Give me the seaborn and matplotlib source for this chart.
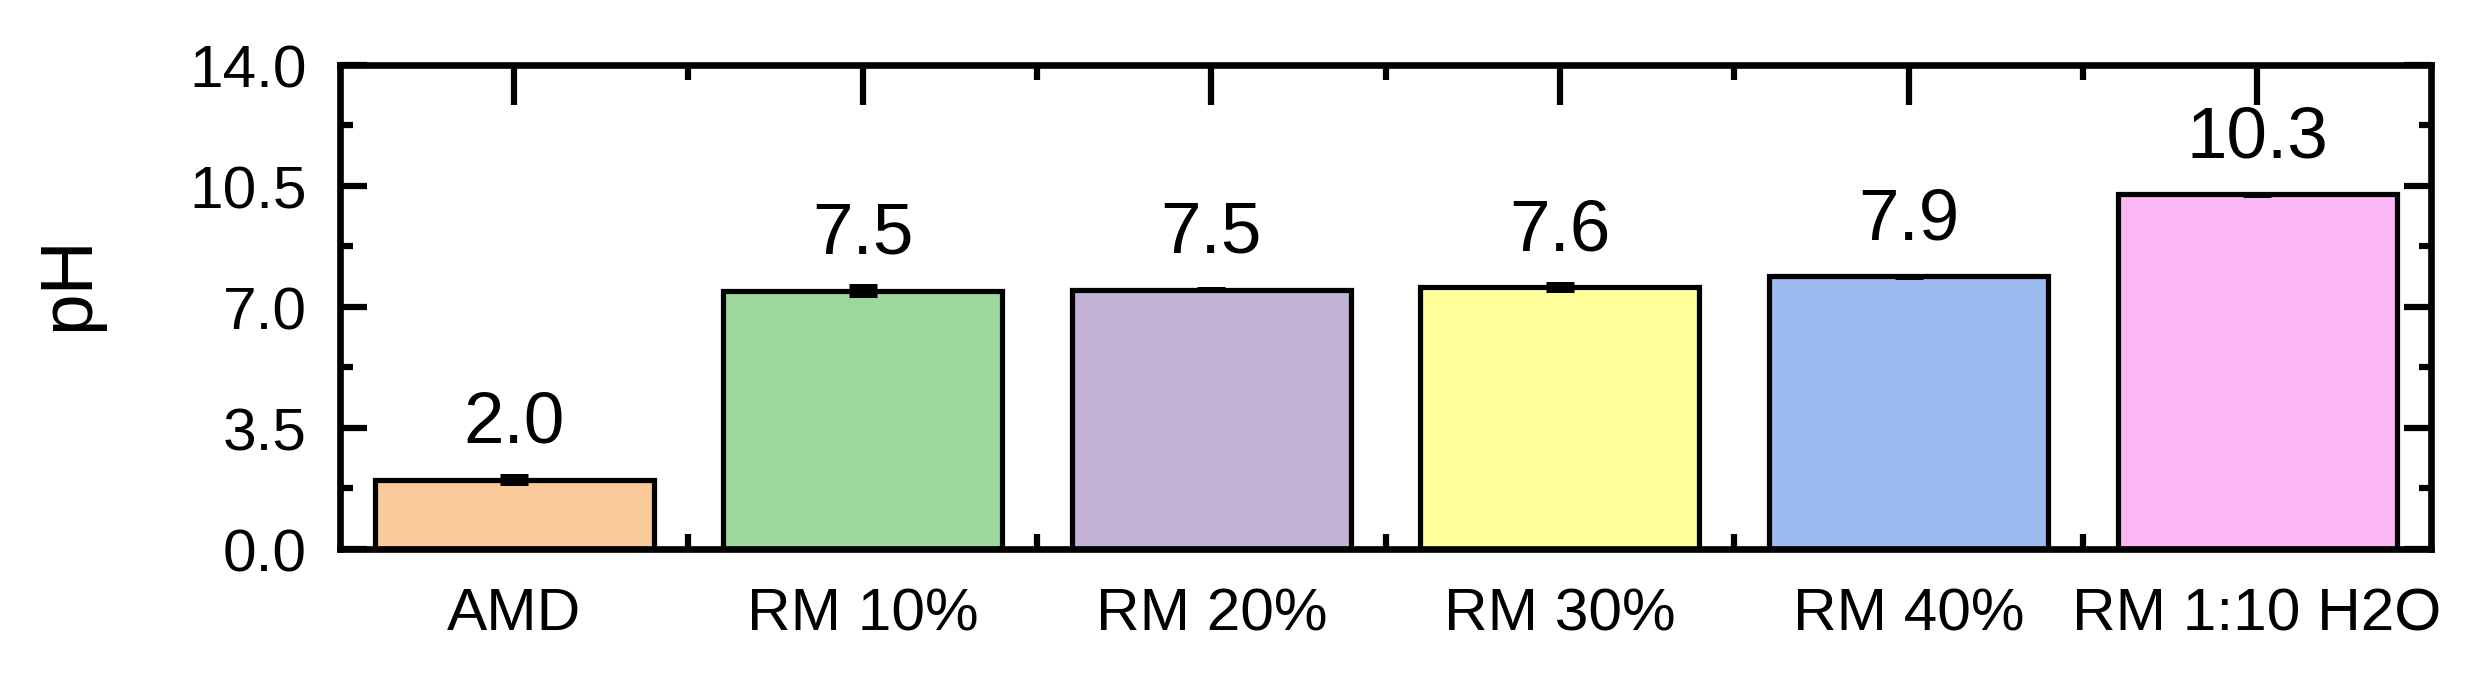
import numpy as np
import matplotlib
matplotlib.use('Agg')
import matplotlib.pyplot as plt
import seaborn as sns
from matplotlib.container import BarContainer
from matplotlib.ticker import MultipleLocator, FormatStrFormatter

# data
samples = ['AMD', 'RM 10%', 'RM 20%', 'RM 30%', 'RM 40%', 'RM 1:10 H2O']
ph_mean = [2.0, 7.47, 7.5, 7.57, 7.88, 10.25]
ph_err = [0.1, 0.14, 0.01, 0.09, 0.01, 0.02]
value_labels = ['2.0', '7.5', '7.5', '7.6', '7.9', '10.3']
bar_colors = ['#FBCA9A', '#9ED79E', '#C1B2D6', '#FFFF99', '#9BBAF0', '#FBB7F5']

sns.set_style('ticks', {'axes.edgecolor': 'black', 'xtick.color': 'black',
                        'ytick.color': 'black', 'text.color': 'black',
                        'axes.labelcolor': 'black'})
plt.rcParams['font.family'] = ['Liberation Sans', 'DejaVu Sans']

fig, ax = plt.subplots(figsize=(8.27, 2.26), dpi=300)
fig.subplots_adjust(left=0.137, right=0.980, top=0.903, bottom=0.189)

sns.barplot(x=samples, y=ph_mean, hue=samples, palette=bar_colors, legend=False,
            saturation=1, width=0.8, edgecolor='black', linewidth=1.25,
            errorbar=None, ax=ax)

# value labels above each bar
bars = [c for c in ax.containers if isinstance(c, BarContainer)]
for cont, lab in zip(bars, value_labels):
    ax.bar_label(cont, labels=[lab], padding=5.5, fontsize=17.5)

ax.errorbar(np.arange(len(samples)), ph_mean, yerr=ph_err, fmt='none',
            ecolor='black', elinewidth=1.1, capsize=3.4, capthick=1.2, zorder=3)

# axes styling
ax.set_xlim(-0.5, len(samples) - 0.5)
ax.set_ylim(0, 14)
ax.yaxis.set_major_locator(MultipleLocator(3.5))
ax.yaxis.set_minor_locator(MultipleLocator(1.75))
ax.yaxis.set_major_formatter(FormatStrFormatter('%.1f'))
ax.set_xticks(np.arange(len(samples) - 1) + 0.5, minor=True)
ax.set_axisbelow(True)

for sp in ax.spines.values():
    sp.set_visible(True)
    sp.set_linewidth(1.6)

ax.tick_params(which='both', direction='in', top=True, right=True, width=1.5)
ax.tick_params(axis='x', which='major', length=9.5, pad=9, labelsize=14.5)
ax.tick_params(axis='x', which='minor', length=3.5)
ax.tick_params(axis='y', which='major', length=6.5, pad=8, labelsize=14.5)
ax.tick_params(axis='y', which='minor', length=3)

ax.set_xlabel('')
ax.set_ylabel('pH', fontsize=18)
ax.yaxis.set_label_coords(-0.113, 0.55)

fig.savefig('out.png', dpi=300)
